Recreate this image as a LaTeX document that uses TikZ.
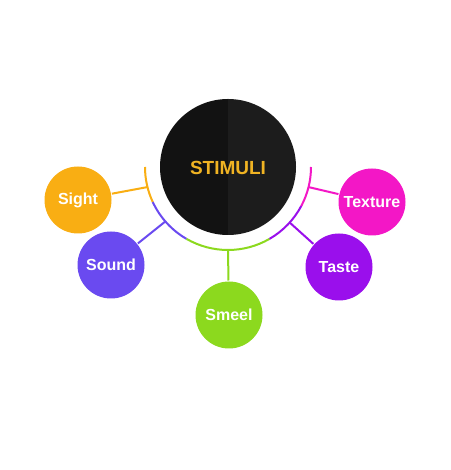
\documentclass[tikz,border=0pt]{standalone}
\usepackage{fontspec}
\setmainfont{Liberation Sans}
\usepackage[dvipsnames]{xcolor}

\definecolor{sightc}{HTML}{F9AE13}
\definecolor{soundc}{HTML}{6A4AF0}
\definecolor{smeelc}{HTML}{8CD91E}
\definecolor{tastec}{HTML}{9A0FEC}
\definecolor{texturec}{HTML}{F317C6}
\definecolor{stimc}{HTML}{F0B323}

\begin{document}
\begin{tikzpicture}[x=1pt,y=1pt,line width=2pt,
    leaf node/.style={circle,inner sep=0pt,minimum size=67pt,text=white,font=\bfseries\fontsize{16}{18}\selectfont},
    link/.style={line width=2pt}]

            \fill[white] (0,0) rectangle (450,470);
            \useasboundingbox (0,0) rectangle (450,470);

            % centre circle, two halves
            \fill[black!93] (228,303) ++(90:68) arc[start angle=90,end angle=270,radius=68] -- cycle;
            \fill[black!89] (228,303) ++(-90:68) arc[start angle=-90,end angle=90,radius=68] -- cycle;
            \node[circle,minimum size=136pt,inner sep=0pt,text=stimc,font=\bfseries\fontsize{19}{21}\selectfont] (stim) at (228,302) {STIMULI};

            \node[leaf node, fill=sightc] (sight) at (78,270) {Sight};
            \node[leaf node, fill=soundc] (sound) at (111,205) {Sound};
            \node[leaf node, fill=smeelc] (smeel) at (229,155) {Smeel};
            \node[leaf node, fill=tastec] (taste) at (339,203) {Taste};
            \node[leaf node, fill=texturec] (texture) at (372,268) {Texture};

            % outer arc
            \draw[sightc] (228,303) ++(180:83) arc[start angle=180,end angle=205,radius=83];
            \draw[soundc] (228,303) ++(205:83) arc[start angle=205,end angle=240,radius=83];
            \draw[smeelc] (228,303) ++(240:83) arc[start angle=240,end angle=300,radius=83];
            \draw[tastec] (228,303) ++(300:83) arc[start angle=300,end angle=332,radius=83];
            \draw[texturec] (228,303) ++(332:83) arc[start angle=332,end angle=360,radius=83];

            \path (228,303) ++(194:83) coordinate (a1);
            \path (228,303) ++(221:83) coordinate (a2);
            \path (228,303) ++(270:83) coordinate (a3);
            \path (228,303) ++(318:83) coordinate (a4);
            \path (228,303) ++(346:83) coordinate (a5);

            \draw[link, sightc] (a1) -- (sight);
            \draw[link, soundc] (a2) -- (sound);
            \draw[link, smeelc] (a3) -- (smeel);
            \draw[link, tastec] (a4) -- (taste);
            \draw[link, texturec] (a5) -- (texture);

            ;
        \end{tikzpicture}
\end{document}
